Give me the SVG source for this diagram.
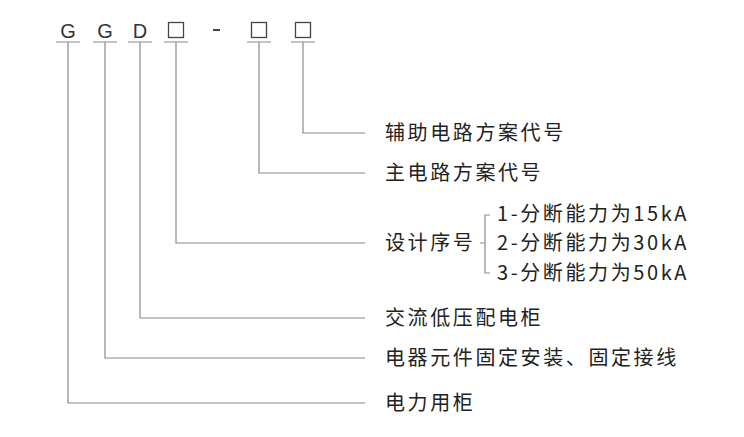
<svg xmlns="http://www.w3.org/2000/svg" width="744" height="437" viewBox="0 0 744 437">
<style>
.l{stroke:#8a8a8a;stroke-width:1.2;fill:none}
.c{font-family:"Liberation Sans",sans-serif;font-size:20px;fill:#333}
.t{font-family:"Noto Sans CJK SC",sans-serif;font-size:20px;letter-spacing:2.6px;fill:#222}
.b{fill:none;stroke:#444;stroke-width:1.3}
</style>
<rect width="744" height="437" fill="#fff"/>
<g id="code">
<text class="c" x="68" y="38" text-anchor="middle">G</text>
<text class="c" x="105" y="38" text-anchor="middle">G</text>
<text class="c" x="140" y="38" text-anchor="middle">D</text>
<rect class="b" x="168.5" y="22.5" width="15" height="15"/>
<rect x="213" y="29" width="7" height="2" fill="#444"/>
<rect class="b" x="251.5" y="22.5" width="15" height="15"/>
<rect class="b" x="295.5" y="22.5" width="15" height="15"/>
</g>
<g id="connectors" class="l">
<path d="M56 42H80M68 42V403H365"/>
<path d="M93 42H117M105 42V358H365"/>
<path d="M128 42H152M140 42V318H365"/>
<path d="M164 42H188M176 42V243H365"/>
<path d="M247 42H271M259 42V173H365"/>
<path d="M291 42H315M303 42V133H365"/>
<path d="M490 215H485V273H490M485 243H480"/>
</g>
<g id="labels">
<text class="t" x="385" y="140">辅助电路方案代号</text>
<text class="t" x="385" y="180">主电路方案代号</text>
<text class="t" x="385" y="250">设计序号</text>
<text class="t" x="497" y="221" letter-spacing="1.5">1-分断能力为15kA</text>
<text class="t" x="497" y="250" letter-spacing="1.5">2-分断能力为30kA</text>
<text class="t" x="497" y="280" letter-spacing="1.5">3-分断能力为50kA</text>
<text class="t" x="385" y="325">交流低压配电柜</text>
<text class="t" x="385" y="365">电器元件固定安装、固定接线</text>
<text class="t" x="385" y="410">电力用柜</text>
</g>
</svg>
